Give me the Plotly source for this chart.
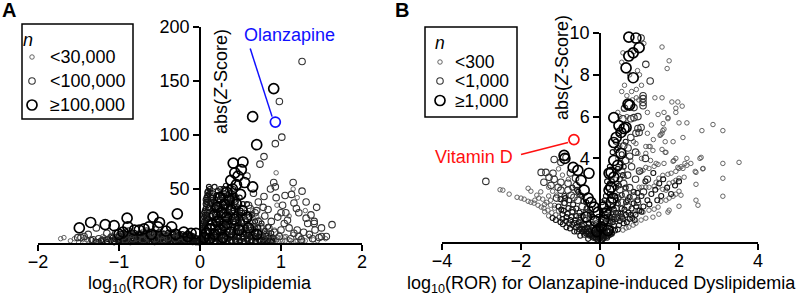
import plotly.graph_objects as go

W, H = 803, 302

# ---------------- Panel A data: (log10 ROR, abs Z) ----------------
A_large = [
    (0.91, 143), (0.65, 117), (0.70, 91), (0.41, 74), (0.53, 75), (0.51, 68), (0.43, 65),
    (0.38, 58), (0.45, 54), (0.55, 56), (0.40, 50), (0.33, 47), (0.50, 45), (0.25, 42),
    (0.36, 40), (0.30, 36), (0.45, 36), (0.21, 33), (0.38, 31), (0.27, 28), (0.52, 30),
    (0.18, 26), (0.33, 24), (0.42, 22), (0.22, 20), (0.15, 17), (0.30, 16), (0.12, 13),
    (0.25, 12), (0.08, 9), (0.18, 8), (0.05, 5), (0.58, 24), (0.60, 14), (0.48, 12),
    (0.70, 8), (0.38, 10), (0.12, 4), (0.28, 5), (0.65, 52), (0.47, 62),
    (-1.35, 19), (-1.49, 14), (-1.17, 17), (-1.06, 16), (-0.90, 23), (-0.89, 15),
    (-0.58, 24), (-0.50, 19), (-0.52, 15), (-0.63, 15), (-0.28, 27), (-0.35, 15),
    (-0.20, 10), (-0.11, 9), (-0.05, 9), (-0.81, 12), (-0.75, 12), (-0.69, 13),
    (-0.42, 11), (-0.95, 10), (-0.30, 8), (-1.00, 8), (-0.15, 6), (-0.60, 8),
]
A_medium = [
    (0.98, 131), (1.01, 98), (0.93, 92), (0.79, 80), (0.74, 73), (1.26, 168),
    (0.91, 56), (0.93, 52), (1.15, 56), (1.26, 48), (1.05, 44), (0.94, 42), (1.16, 37),
    (1.19, 32), (1.31, 38), (1.44, 33), (1.37, 26), (1.41, 20), (1.63, 17), (1.56, 6),
    (1.50, 6), (1.22, 28), (1.06, 28), (1.00, 28), (0.78, 33), (0.84, 31), (0.72, 38),
    (0.79, 43), (1.31, 23), (1.33, 18), (1.41, 18), (1.47, 5), (1.39, 4), (1.16, 9),
    (1.22, 6), (1.08, 21), (1.04, 18), (0.96, 24), (0.88, 20), (0.85, 14), (0.92, 10),
    (1.00, 12), (1.10, 14), (1.20, 12), (1.28, 10), (1.35, 8), (1.12, 4), (0.98, 6),
    (0.80, 25), (0.68, 28), (0.72, 20), (0.62, 32), (0.66, 46), (0.58, 62), (0.75, 15),
    (0.65, 18), (0.55, 20), (1.02, 35), (1.13, 45), (0.87, 50), (1.42, 12), (1.50, 14),
    (1.25, 3), (0.90, 3), (0.78, 5), (0.60, 35), (0.70, 30), (0.82, 8),
    (-1.28, 14), (-1.15, 9), (-1.38, 8), (-1.43, 6), (-1.51, 5), (-1.47, 5), (-1.04, 9),
    (-1.00, 7), (-1.25, 4), (-1.10, 5), (-0.95, 6), (-0.85, 8), (-0.78, 5), (-0.72, 8),
    (-0.65, 6), (-0.60, 9), (-0.55, 4), (-0.48, 7), (-0.40, 5), (-0.36, 9), (-0.30, 4),
    (-0.25, 6), (-0.18, 4), (-0.92, 3), (-0.83, 4), (-0.70, 3), (-0.60, 2), (-1.20, 2),
    (-1.32, 3), (-0.45, 3), (-0.88, 11), (-0.66, 11), (-0.55, 12),
]
A_small = [
    (0.94, 65), (1.15, 50), (1.20, 42), (1.30, 30), (1.10, 25), (0.95, 35),
    (-1.68, 5), (-1.55, 4), (-1.40, 3), (-1.42, 5), (-1.30, 2), (-1.20, 6), (-1.12, 3),
    (-1.25, 1.5), (-1.38, 2), (-1.45, 3), (-1.50, 1), (-1.60, 2), (-1.72, 4),
    (-1.10, 7), (-1.18, 5), (-0.92, 11), (-0.70, 11), (-0.50, 11), (-0.30, 11),
    (1.02, 2), (1.06, 6), (1.10, 3), (1.15, 8), (1.20, 2), (1.25, 5),
    (1.30, 2), (1.35, 6), (1.40, 3), (1.45, 2), (1.55, 4),
]
# dense black mass left of zero
A_dense_left = [
    (-1.05, 4), (-1.00, 2), (-0.95, 4), (-0.90, 2), (-0.85, 3), (-0.80, 1), (-0.75, 3),
    (-0.70, 2), (-0.65, 4), (-0.60, 1), (-0.55, 3), (-0.50, 2), (-0.45, 1), (-0.40, 3),
    (-0.35, 2), (-0.30, 1), (-0.25, 3), (-0.20, 2), (-0.15, 1), (-0.10, 2), (-0.05, 1),
    (-0.02, 0.5), (-0.90, 6), (-0.80, 7), (-0.70, 6), (-0.60, 5), (-0.50, 5), (-0.42, 6),
    (-0.32, 6), (-0.22, 5), (-0.12, 4), (-0.07, 3),
    (-1.00, 6.5), (-0.95, 9), (-0.85, 10), (-0.75, 9), (-0.65, 10), (-0.55, 9.5),
    (-0.45, 9), (-0.35, 10), (-0.25, 8), (-0.15, 7), (-0.09, 6.5), (-1.15, 1), (-1.20, 3),
    (-1.06, 1.4), (-1.01, 1.8), (-0.97, 1.2), (-0.91, 1.6), (-0.87, 1.3), (-0.83, 1.9),
    (-0.79, 1.4), (-0.73, 1.7), (-0.69, 1.2), (-0.65, 1.6), (-0.61, 1.9), (-0.57, 1.3),
    (-0.53, 1.7), (-0.49, 1.4), (-0.43, 1.8), (-0.39, 1.2), (-0.35, 1.6), (-0.31, 1.3),
    (-0.27, 1.5), (-0.23, 1.1), (-0.19, 1.4), (-0.13, 1.0), (-0.09, 0.8), (-0.05, 0.6),
    (-1.04, 3.2), (-0.99, 2.8), (-0.94, 3.4), (-0.89, 2.9), (-0.84, 3.3), (-0.79, 2.7),
    (-0.74, 3.1), (-0.69, 3.5), (-0.64, 2.8), (-0.59, 3.2), (-0.54, 2.9), (-0.49, 3.4),
    (-0.44, 2.7), (-0.39, 3.1), (-0.34, 3.3), (-0.29, 2.8), (-0.24, 3.0), (-0.19, 2.6),
    (-0.14, 2.4), (-0.09, 2.0), (-0.04, 1.6),
    (-0.97, 4.6), (-0.92, 4.3), (-0.87, 4.8), (-0.82, 4.4), (-0.77, 4.7), (-0.72, 4.2),
    (-0.67, 4.9), (-0.62, 4.5), (-0.57, 4.3), (-0.52, 4.8), (-0.47, 4.4), (-0.42, 4.6),
    (-0.37, 4.2), (-0.32, 4.7), (-0.27, 4.3), (-0.22, 4.1), (-0.17, 3.8), (-0.11, 3.4),
    (-0.96, 6.1), (-0.88, 5.8), (-0.81, 6.3), (-0.74, 5.9), (-0.67, 6.2), (-0.61, 5.7),
    (-0.54, 6.4), (-0.47, 5.9), (-0.40, 6.1), (-0.33, 5.6), (-0.27, 5.9), (-0.20, 5.4),
    (-0.13, 5.0), (-0.90, 7.6), (-0.78, 7.3), (-0.68, 7.8), (-0.58, 7.2), (-0.49, 7.7),
    (-0.41, 7.4), (-0.33, 7.9), (-0.24, 7.1), (-0.17, 6.6),
    (-1.10, 2.2), (-1.14, 3.6), (-1.22, 2.5), (-1.28, 1.0), (-1.34, 2.8), (-1.08, 4.8),
    (-0.03, 4.2), (-0.06, 5.0), (-0.10, 6.0), (-0.14, 6.8), (-0.18, 7.6), (-0.22, 8.4),
    (-0.27, 9.3), (-0.33, 8.7), (-0.39, 9.6), (-0.45, 8.2), (-0.51, 9.9), (-0.57, 8.6),
    (-0.63, 9.1), (-0.69, 8.3), (-0.75, 7.9), (-0.81, 9.4), (-0.87, 8.8), (-0.93, 7.7),
    (-0.98, 8.5), (-1.03, 5.6), (-0.02, 2.2), (-0.07, 1.3), (-0.16, 2.9), (-0.26, 2.2),
    (-0.36, 0.9), (-0.46, 2.3), (-0.56, 0.8), (-0.66, 2.6), (-0.76, 2.1), (-0.86, 0.7),
    (-0.96, 2.4), (-1.06, 0.6), (-0.12, 7.5), (-0.30, 7.0), (-0.52, 6.7), (-0.71, 6.9),
    (-0.85, 6.6),
]
# dense black spike right of zero
A_dense_right = [
    (0.02, 3), (0.03, 8), (0.04, 14), (0.05, 20), (0.06, 26), (0.07, 32), (0.08, 38),
    (0.09, 44), (0.10, 48), (0.04, 5), (0.05, 11), (0.06, 17), (0.07, 23), (0.08, 29),
    (0.09, 35), (0.10, 40), (0.11, 45), (0.12, 50), (0.13, 36), (0.14, 42), (0.15, 30),
    (0.16, 46), (0.17, 38), (0.18, 52), (0.19, 33), (0.20, 44), (0.21, 28), (0.22, 48),
    (0.23, 36), (0.24, 24), (0.25, 50), (0.26, 32), (0.27, 42), (0.28, 20), (0.29, 37),
    (0.30, 46), (0.31, 26), (0.32, 53), (0.33, 34), (0.34, 16), (0.35, 41), (0.36, 29),
    (0.37, 48), (0.38, 22), (0.39, 36), (0.40, 12), (0.41, 30), (0.42, 44), (0.43, 18),
    (0.44, 38), (0.45, 26), (0.46, 10), (0.47, 33), (0.48, 20), (0.49, 42), (0.50, 14),
    (0.52, 28), (0.54, 8), (0.56, 22), (0.58, 36), (0.60, 16), (0.62, 6), (0.64, 26),
    (0.66, 12), (0.68, 20), (0.70, 4), (0.72, 14), (0.74, 9), (0.76, 18), (0.78, 3),
    (0.80, 11), (0.82, 7), (0.84, 15), (0.86, 2), (0.88, 9), (0.90, 5),
    (0.03, 1), (0.06, 2), (0.10, 1), (0.12, 5), (0.15, 3), (0.18, 1), (0.20, 6), (0.22, 3),
    (0.25, 1), (0.27, 7), (0.30, 2), (0.32, 9), (0.35, 4), (0.38, 1), (0.40, 6), (0.43, 3),
    (0.45, 1), (0.48, 5), (0.50, 2), (0.53, 4), (0.55, 1), (0.58, 3), (0.60, 8), (0.63, 2),
    (0.65, 5), (0.68, 1), (0.70, 9), (0.73, 3), (0.75, 6), (0.78, 1), (0.80, 4), (0.83, 2),
    (0.85, 5), (0.88, 1), (0.12, 20), (0.14, 25), (0.16, 15), (0.20, 18), (0.24, 12),
    (0.28, 10), (0.30, 30), (0.35, 20), (0.40, 24), (0.45, 16), (0.50, 30), (0.55, 12),
    (0.60, 24),
    (0.05, 2.3), (0.09, 2.0), (0.14, 2.4), (0.19, 1.8), (0.24, 2.2), (0.29, 2.5),
    (0.34, 1.9), (0.39, 2.3), (0.44, 2.1), (0.49, 2.6), (0.54, 1.8), (0.59, 2.2),
    (0.64, 2.4), (0.69, 2.0), (0.74, 2.3), (0.79, 2.7), (0.84, 1.9), (0.89, 2.4),
    (0.04, 6.2), (0.08, 5.8), (0.13, 6.4), (0.18, 5.6), (0.23, 6.1), (0.28, 6.5),
    (0.33, 5.7), (0.38, 6.3), (0.43, 5.9), (0.48, 6.6), (0.53, 5.6), (0.58, 6.2),
    (0.63, 5.8), (0.68, 6.4), (0.73, 5.7), (0.78, 6.1),
    (0.05, 10.2), (0.09, 9.6), (0.14, 10.5), (0.19, 9.8), (0.24, 10.3), (0.29, 9.5),
    (0.34, 10.6), (0.39, 9.9), (0.44, 10.4), (0.49, 9.7), (0.54, 10.2), (0.59, 9.6),
    (0.64, 10.1), (0.69, 9.4),
    (0.06, 15.3), (0.11, 14.6), (0.16, 15.5), (0.21, 14.8), (0.26, 15.4), (0.31, 14.5),
    (0.36, 15.2), (0.41, 14.7), (0.46, 15.6), (0.51, 14.9), (0.56, 15.3), (0.61, 14.6),
    (0.07, 20.5), (0.12, 19.6), (0.17, 20.8), (0.22, 19.9), (0.27, 20.4), (0.32, 19.5),
    (0.37, 20.6), (0.42, 19.8), (0.47, 20.3), (0.52, 19.7), (0.57, 20.2),
    (0.08, 26.2), (0.13, 25.5), (0.18, 26.6), (0.23, 25.8), (0.28, 26.4), (0.33, 25.6),
    (0.38, 26.3), (0.43, 25.7), (0.48, 26.1),
    (0.11, 32.4), (0.16, 31.6), (0.21, 32.7), (0.26, 31.8), (0.31, 32.5), (0.36, 31.7),
    (0.41, 32.2), (0.46, 31.5),
    (0.14, 38.3), (0.19, 37.6), (0.24, 38.5), (0.29, 37.8), (0.34, 38.4), (0.39, 37.5),
    (0.44, 38.1), (0.21, 44.5), (0.27, 43.8), (0.33, 44.2), (0.38, 43.6),
    (0.43, 44.0), (0.29, 50.2), (0.36, 51.0),
    (0.02, 6), (0.03, 12), (0.04, 18), (0.05, 24), (0.06, 30), (0.07, 36), (0.08, 42),
    (0.09, 47), (0.11, 52), (0.13, 47), (0.15, 40), (0.17, 33), (0.19, 27), (0.21, 22),
    (0.23, 17), (0.25, 7), (0.27, 3), (0.29, 13), (0.31, 20), (0.33, 28), (0.35, 36),
    (0.37, 41), (0.39, 46), (0.41, 50), (0.43, 40), (0.45, 31), (0.47, 23), (0.49, 17),
    (0.51, 8), (0.53, 36), (0.55, 28), (0.57, 14), (0.59, 4), (0.03, 16), (0.05, 28),
    (0.07, 40), (0.09, 22), (0.11, 33), (0.13, 18), (0.15, 9), (0.17, 4), (0.19, 40),
    (0.21, 14), (0.23, 44), (0.25, 30), (0.27, 16), (0.29, 44), (0.31, 38), (0.33, 4),
    (0.35, 12), (0.37, 33), (0.39, 7), (0.41, 18), (0.43, 10), (0.45, 42), (0.47, 5),
    (0.49, 26),
]
# grey spread right of the spike
A_grey_right = [
    (0.92, 12), (0.95, 3), (0.98, 8), (0.65, 30), (0.70, 25), (0.75, 22),
    (0.94, 2.0), (0.99, 2.6), (1.05, 1.8), (1.12, 2.3), (1.18, 1.6), (1.27, 2.1),
    (0.83, 5.5), (0.89, 6.0), (0.96, 5.4), (1.04, 5.6), (0.74, 10.0), (0.79, 9.5),
    (0.85, 9.8), (0.66, 15.1), (0.71, 14.4), (0.77, 14.8), (0.62, 19.4), (0.68, 19.9),
    (0.53, 25.4), (0.59, 25.9), (0.52, 32.0),
]

# ---------------- Panel B data: (log10 ROR, abs Z) ----------------
B_large = [
    (0.73, 9.80), (0.91, 9.76), (0.99, 9.30), (0.84, 9.05), (0.73, 8.90), (0.66, 8.33),
    (0.84, 7.86), (0.71, 6.60), (0.75, 6.55), (0.35, 5.95), (0.48, 5.57), (0.61, 5.43),
    (0.53, 5.24), (0.66, 5.48), (0.41, 5.00), (0.35, 4.76), (0.53, 4.24), (0.35, 3.90),
    (0.45, 3.67), (0.28, 3.33), (0.23, 3.29), (0.35, 3.10), (0.28, 2.62), (0.23, 2.48),
    (0.33, 2.10), (0.28, 1.90), (0.08, 1.67), (0.15, 1.38), (0.10, 1.05), (0.03, 0.71),
    (0.20, 0.55),
    (-0.91, 4.14), (-0.89, 4.00), (-0.68, 3.57), (-0.56, 3.43), (-0.28, 3.29), (-0.48, 2.95),
    (-0.40, 2.48), (-0.30, 2.10), (-0.23, 1.90), (-0.15, 1.67), (-0.05, 1.43), (-0.12, 1.00),
    (-0.35, 1.20), (-0.08, 0.50),
]
B_medium = [
    (1.04, 9.76), (1.09, 7.00), (1.09, 6.86), (1.09, 6.67), (1.09, 6.52), (1.16, 8.50),
    (1.27, 7.70), (0.86, 6.43), (0.78, 5.90), (0.86, 5.95), (0.96, 6.00), (0.96, 5.43),
    (1.04, 5.48), (0.91, 5.20), (0.99, 5.24), (0.78, 5.00), (0.71, 4.50), (0.60, 4.60),
    (0.75, 4.10), (0.65, 3.90), (0.80, 3.60), (0.55, 3.40), (0.70, 3.20), (0.90, 3.00),
    (0.60, 2.80), (0.75, 2.60), (0.50, 2.50), (0.65, 2.30), (0.45, 2.10), (0.85, 2.20),
    (0.55, 1.90), (0.40, 1.60), (0.70, 1.70), (0.30, 1.30), (0.50, 1.20), (0.20, 0.90),
    (0.95, 1.90), (1.10, 2.40), (1.20, 3.00), (1.00, 3.40), (1.15, 4.00), (0.90, 4.30),
    (0.62, 6.40), (0.58, 5.90),
    (-2.89, 2.90), (-1.49, 3.33), (-1.37, 3.33), (-1.19, 3.29), (-1.29, 3.10), (-1.16, 3.00),
    (-1.42, 2.86), (-1.24, 2.71), (-1.16, 3.95), (-0.99, 3.81), (-0.86, 4.05), (-1.06, 2.62),
    (-0.99, 2.48), (-0.81, 2.48), (-0.73, 2.24), (-0.66, 2.14), (-0.56, 2.00), (-0.81, 2.81),
    (-0.99, 2.86), (-0.60, 2.70), (-0.45, 1.70), (-0.35, 1.40), (-0.25, 1.10), (-0.70, 1.50),
    (-0.50, 1.20), (-0.90, 1.90), (-1.10, 2.10), (-0.15, 0.80), (-0.62, 3.05), (-0.75, 3.30),
]
B_small = [
    (1.57, 9.33), (1.75, 8.67), (1.70, 8.30), (1.39, 6.90), (1.57, 6.90), (1.82, 6.70),
    (1.97, 6.70), (2.08, 6.50), (1.92, 6.40), (1.92, 6.20), (1.62, 6.20), (1.47, 6.10),
    (1.72, 5.90), (1.60, 5.67), (2.00, 5.70), (2.20, 5.70), (2.86, 5.62), (2.58, 5.33),
    (3.11, 5.33), (1.62, 5.40), (1.57, 5.20), (1.52, 5.10), (2.10, 5.00), (1.65, 4.80),
    (1.85, 4.80), (1.16, 4.57), (1.27, 4.57), (1.34, 4.38), (1.16, 4.24), (1.57, 4.43),
    (1.67, 4.29), (1.85, 3.86), (1.92, 4.00), (2.20, 4.00), (2.53, 4.00), (3.11, 3.76),
    (3.52, 3.81), (2.20, 3.67), (2.30, 3.76), (2.05, 3.60), (1.97, 3.57), (1.92, 3.38),
    (2.43, 3.33), (2.60, 3.50), (1.62, 3.76), (1.47, 3.71), (1.37, 3.62), (1.24, 3.52),
    (3.11, 3.05), (1.09, 3.43), (0.99, 3.33), (0.58, 9.05), (1.11, 9.50), (0.85, 9.10),
    (1.42, 3.76), (1.16, 3.57), (1.04, 3.38), (2.15, 3.76), (2.00, 3.52), (2.10, 3.52),
    (1.80, 3.29), (1.72, 3.24), (2.61, 3.52), (2.41, 3.38), (2.13, 3.10), (2.00, 3.05),
    (2.43, 2.76), (3.11, 2.19), (1.92, 2.95), (1.85, 2.86), (1.75, 2.81), (1.59, 3.19),
    (1.49, 3.05), (1.42, 2.86), (1.37, 2.67), (1.47, 2.62), (1.59, 2.52), (1.67, 2.48),
    (1.24, 2.62), (1.16, 2.62), (1.06, 2.62), (0.99, 2.62), (2.00, 2.43), (2.05, 2.24),
    (1.92, 2.29), (1.85, 2.19), (1.75, 2.10), (1.67, 2.00), (1.54, 1.95), (2.43, 2.00),
    (2.48, 1.76), (2.00, 1.71), (1.75, 1.52), (1.72, 1.43), (1.47, 1.67), (1.37, 1.57),
    (1.24, 1.52), (1.49, 1.33), (1.34, 1.19), (1.16, 1.14), (1.04, 1.05), (0.91, 0.90),
    (0.84, 0.81), (1.09, 1.43), (0.96, 1.52), (0.86, 1.38), (0.73, 0.71), (0.66, 0.67),
    (0.58, 0.57), (1.72, 5.95), (1.59, 5.33), (1.54, 5.14), (0.91, 4.71), (0.96, 4.24),
    (1.87, 3.90), (2.56, 4.05), (1.65, 4.29), (1.24, 4.57),
    (0.95, 8.20), (0.55, 7.20), (0.92, 7.30), (0.45, 6.20), (0.82, 6.80), (0.68, 6.00),
    (0.50, 4.60), (0.45, 4.00), (0.62, 3.10), (0.78, 3.90), (0.85, 4.80), (0.40, 3.00),
    (0.50, 6.00), (0.60, 6.40), (0.68, 7.00), (0.62, 7.50), (0.75, 8.00), (0.55, 8.60),
    (0.80, 7.20), (0.92, 6.90), (0.98, 6.80), (1.05, 7.50), (1.00, 8.00), (1.20, 6.20),
    (1.30, 5.60), (1.20, 5.20), (1.35, 4.90), (1.05, 4.00), (1.28, 3.90),
    (-2.53, 2.50), (-2.46, 2.48), (-2.30, 2.29), (-2.10, 2.14), (-2.00, 2.10), (-1.92, 2.05),
    (-1.82, 1.95), (-1.75, 1.90), (-1.67, 1.86), (-1.57, 1.76), (-1.49, 1.67), (-1.42, 1.62),
    (-1.32, 1.52), (-1.22, 1.40), (-1.12, 1.30), (-1.03, 1.19),
    (-1.82, 2.57), (-1.75, 2.43), (-1.60, 2.24), (-1.45, 2.05), (-1.35, 1.90), (-1.25, 1.76),
    (-1.15, 1.62), (-1.05, 1.48), (-1.30, 2.62), (-1.20, 2.43), (-1.10, 2.24),
    (-1.05, 3.50), (-0.95, 3.20), (-0.80, 3.00), (-1.30, 2.20), (-1.50, 2.40), (-1.65, 2.00),
    (-1.30, 1.25), (-1.40, 1.45), (-1.15, 1.75), (-1.25, 2.00), (-1.40, 1.80), (-1.55, 2.10),
]
# dense wedge around the origin
B_dense = [
    (-0.95, 1.10), (-0.86, 1.00), (-0.78, 0.90), (-0.70, 0.81), (-0.61, 0.71), (-0.52, 0.60),
    (-0.44, 0.51), (-0.35, 0.41), (-0.26, 0.30), (-0.18, 0.21), (-0.95, 1.33), (-0.85, 1.19),
    (-0.75, 1.05), (-0.65, 0.91), (-0.55, 0.78), (-0.45, 0.63), (-0.35, 0.50), (-0.25, 0.36),
    (-1.00, 2.05), (-0.90, 1.86), (-0.80, 1.62), (-0.70, 1.43), (-0.60, 1.24), (-0.50, 1.05),
    (-0.40, 0.81), (-0.30, 0.62), (-0.20, 0.43), (-0.70, 2.60), (-0.55, 2.40), (-0.45, 2.20),
    (-0.35, 1.90), (-0.25, 1.60), (-0.20, 1.20), (-0.10, 0.90), (-0.05, 0.30), (-0.12, 0.20),
    (-0.30, 0.15), (-0.50, 0.30), (-0.65, 0.50), (-0.85, 0.70), (-1.00, 0.95), (-1.20, 1.15),
    (-0.90, 2.20),
    (-0.05, 0.10), (0.02, 0.05), (-0.10, 0.15), (0.05, 0.10), (-0.15, 0.25), (0.10, 0.20),
    (-0.20, 0.30), (0.15, 0.25), (-0.25, 0.35), (0.20, 0.30), (-0.30, 0.40), (0.25, 0.35),
    (-0.40, 0.50), (0.30, 0.45), (-0.03, 0.35), (0.03, 0.30), (-0.08, 0.60), (0.06, 0.60),
    (0.00, 0.20), (-0.02, 0.80), (0.02, 1.00), (-0.04, 1.20), (0.05, 1.30), (0.10, 0.30),
    (0.20, 0.50), (0.30, 0.40), (0.15, 1.00), (0.25, 1.20), (0.35, 0.80), (0.45, 0.60),
    (0.40, 1.40), (0.50, 1.00), (0.55, 1.60), (0.60, 0.90), (0.65, 1.30), (0.70, 2.00),
    (0.75, 1.10), (0.80, 1.60), (0.85, 2.40), (0.90, 1.30), (0.95, 2.00), (1.00, 1.50),
    (1.05, 2.20), (1.10, 1.70), (1.15, 2.90), (1.20, 2.00), (1.25, 1.80), (1.30, 2.30),
    (1.35, 3.30), (1.40, 2.50), (1.45, 2.00), (1.50, 2.80), (1.55, 2.20), (1.60, 3.00),
    (1.70, 2.60), (1.80, 2.30), (1.90, 2.70), (2.00, 2.90), (0.20, 1.80), (0.30, 2.20),
    (0.40, 2.60), (0.50, 3.00), (0.60, 3.60), (0.25, 2.80), (0.45, 3.50), (0.55, 4.20),
    (0.65, 4.80), (0.42, 4.40), (0.08, 0.15), (0.05, 0.40), (0.12, 0.70), (0.18, 0.20),
    (0.25, 2.30), (0.18, 1.60), (0.12, 2.00),
    (0.12, 0.45), (0.22, 0.75), (0.32, 0.95), (0.42, 1.10), (0.52, 1.35), (0.62, 1.55),
    (0.72, 1.40), (0.82, 1.15), (0.92, 1.70), (0.35, 1.55), (0.45, 1.85), (0.55, 2.25),
    (0.65, 2.60), (0.75, 2.15), (0.85, 1.85), (0.95, 2.35), (1.05, 1.45), (0.28, 0.65),
    (0.38, 0.55), (0.48, 0.80), (0.58, 1.10), (0.68, 0.95), (0.78, 1.30), (0.88, 1.05),
    (0.16, 0.35), (0.24, 0.50), (0.36, 1.20), (0.46, 1.40), (0.56, 1.20), (0.66, 1.90),
    (-0.06, 0.22), (-0.12, 0.35), (-0.18, 0.42), (-0.24, 0.55), (-0.32, 0.70), (-0.38, 0.62),
    (-0.46, 0.80), (-0.54, 0.95), (-0.62, 1.05), (-0.72, 1.20), (-0.82, 1.35), (-0.92, 1.50),
    (-0.15, 0.55), (-0.22, 0.70), (-0.28, 0.90), (-0.36, 1.05), (-0.44, 1.25), (-0.52, 1.40),
    (-0.60, 1.60), (-0.68, 1.80), (-0.78, 2.00), (-0.88, 2.10), (-0.10, 0.45), (-0.18, 0.80),
    (-0.26, 1.30), (-0.34, 1.60), (-0.42, 1.95), (-0.50, 2.25), (-0.58, 2.50), (-0.40, 0.35),
    (-0.58, 0.50), (-0.76, 0.65), (-0.94, 0.85), (-1.12, 1.05), (-1.05, 1.70), (-0.98, 1.55),
    (-0.07, 0.70), (-0.03, 0.55), (0.04, 0.85), (0.08, 0.50), (-0.01, 0.45), (0.01, 0.65),
    (0.12, 0.90), (0.18, 1.20), (0.22, 1.50), (0.15, 2.20), (0.20, 2.60), (0.30, 2.90),
    (0.38, 3.40), (0.42, 2.80), (0.38, 2.20), (0.32, 1.70), (0.25, 1.00), (0.35, 1.10),
    (0.10, 1.50), (0.05, 1.90), (0.18, 2.90), (0.25, 3.60), (0.32, 4.30), (0.40, 4.80),
    (0.48, 5.20), (0.45, 4.50), (0.52, 3.80), (0.58, 3.20), (0.48, 2.70), (0.40, 2.00),
]

A_highlight = [(0.93, 112)]
A_highlight_label = "Olanzapine"
B_highlight = [(-0.66, 4.90)]
B_highlight_label = "Vitamin D"

A_xticks = [-2, -1, 0, 1, 2]
A_yticks = [50, 100, 150, 200]
B_xticks = [-4, -2, 0, 2, 4]
B_yticks = [4, 6, 8, 10]
A_legend = ["<30,000", "<100,000", "\u2265100,000"]
B_legend = ["<300", "<1,000", "\u22651,000"]

FONT = "Liberation Sans, Arial, Helvetica, sans-serif"
STY = {
    "small": dict(size=4.5, color="#555555", width=0.9),
    "dense": dict(size=5, color="#111111", width=1.1),
    "medium": dict(size=6.5, color="#333333", width=1.1),
    "large": dict(size=10, color="#000000", width=1.7),
}


def PX(p):
    return p / W


def PY(p):
    return 1 - p / H


def minus(v):
    return str(v).replace("-", "\u2212")


fig = go.Figure()


def add_pts(pts, style, xa, ya, color=None):
    s = STY[style]
    fig.add_trace(go.Scatter(
        x=[p[0] for p in pts], y=[p[1] for p in pts], mode="markers",
        xaxis=xa, yaxis=ya, cliponaxis=False, hoverinfo="skip",
        marker=dict(symbol="circle", size=s["size"], color="rgba(0,0,0,0)",
                    line=dict(color=color or s["color"], width=s["width"])),
    ))


for pts, st in [(A_small, "small"), (A_grey_right, "small"), (A_dense_left, "dense"),
                (A_dense_right, "dense"), (A_medium, "medium"), (A_large, "large")]:
    add_pts(pts, st, "x", "y")
add_pts(A_highlight, "large", "x", "y", color="#1010ff")
for pts, st in [(B_small, "small"), (B_dense, "dense"), (B_medium, "medium"),
                (B_large, "large")]:
    add_pts(pts, st, "x2", "y2")
add_pts(B_highlight, "large", "x2", "y2", color="#ff1010")

A_dom = [PX(38), PX(362)]
B_dom = [PX(442), PX(758)]
A_rng = [-2, 2]
B_rng = [-4, 4]


def zero_pos(dom, rng):
    return dom[0] + (0 - rng[0]) / (rng[1] - rng[0]) * (dom[1] - dom[0])


axis_common = dict(showgrid=False, zeroline=False, showline=True, linecolor="black",
                   linewidth=1.5, ticks="outside", ticklen=6, tickwidth=1.5,
                   tickcolor="black", automargin=False,
                   tickfont=dict(family=FONT, size=18, color="black"))

fig.update_layout(
    template="none",
    width=W, height=H, margin=dict(l=0, r=0, t=0, b=0, pad=0, autoexpand=False),
    paper_bgcolor="white", plot_bgcolor="white", showlegend=False,
    font=dict(family=FONT, size=18, color="black"),
    xaxis=dict(domain=A_dom, range=A_rng, anchor="y", tickvals=A_xticks,
               ticktext=[minus(v) for v in A_xticks], ticklabelstandoff=-4, **axis_common),
    yaxis=dict(domain=[PY(243), PY(27)], range=[0, 200], anchor="free",
               position=zero_pos(A_dom, A_rng), tickvals=A_yticks,
               ticktext=[str(v) for v in A_yticks], **axis_common),
    xaxis2=dict(domain=B_dom, range=B_rng, anchor="y2", tickvals=B_xticks,
                ticktext=[minus(v) for v in B_xticks], ticklabelstandoff=-4, **axis_common),
    yaxis2=dict(domain=[PY(242), PY(33)], range=[0, 10], anchor="free",
                position=zero_pos(B_dom, B_rng), tickvals=B_yticks,
                ticktext=[str(v) for v in B_yticks], **axis_common),
)

ann = []


def text(x, y, s, size=18, color="black", xanchor="center", angle=0, xref="paper", yref="paper"):
    ann.append(dict(x=x, y=y, xref=xref, yref=yref, text=s, showarrow=False,
                    xanchor=xanchor, yanchor="middle", textangle=angle,
                    font=dict(family=FONT, size=size, color=color)))


# panel letters
text(PX(9), PY(10), "<b>A</b>", size=20)
text(PX(402), PY(10), "<b>B</b>", size=20)
# axis titles
text(PX(200), PY(284), "log<sub>10</sub>(ROR) for Dyslipidemia")
text(PX(601), PY(284), "log<sub>10</sub>(ROR) for Olanzapine-induced Dyslipidemia")
text(PX(221), PY(82), "abs(<i>Z</i>-Score)", angle=-90)
text(PX(562), PY(68), "abs(<i>Z</i>-Score)", angle=-90)
# highlighted labels
text(1.11, 193, A_highlight_label, color="#1010ff", xref="x", yref="y")
text(-3.19, 4.05, B_highlight_label, color="#ff1010", xref="x2", yref="y2")

shapes = [
    dict(type="line", xref="x", yref="y", x0=0.62, y0=180, x1=0.89, y1=117,
         line=dict(color="#1010ff", width=1.5)),
    dict(type="line", xref="x2", yref="y2", x0=-2.0, y0=4.19, x1=-0.81, y1=4.76,
         line=dict(color="#ff1010", width=1.5)),
]


def legend(box, title_xy, marker_x, rows_y, labels, text_x, size):
    shapes.append(dict(type="rect", xref="paper", yref="paper", x0=PX(box[0]), y0=PY(box[1]),
                       x1=PX(box[2]), y1=PY(box[3]), line=dict(color="black", width=1.5)))
    text(PX(title_xy[0]), PY(title_xy[1]), "<i>n</i>", size=size)
    for (st, yy, lab) in zip(["small", "medium", "large"], rows_y, labels):
        s = STY[st]
        r = s["size"] / 2
        shapes.append(dict(type="circle", xref="paper", yref="paper",
                           xsizemode="pixel", ysizemode="pixel",
                           xanchor=PX(marker_x), yanchor=PY(yy),
                           x0=-r, x1=r, y0=-r, y1=r,
                           line=dict(color=s["color"], width=s["width"])))
        text(PX(text_x), PY(yy), lab, xanchor="left", size=size)


legend((22, 24, 133, 119), (28, 40), 32, [57, 81, 105], A_legend, 48, 18)
legend((425, 27, 517, 117), (440, 43), 440, [62, 81, 100.5], B_legend, 453, 17.5)

fig.update_layout(annotations=ann, shapes=shapes)
fig.write_html("out.html", config={"displayModeBar": False},
               post_script="document.body.style.margin='0';document.body.style.overflow='hidden';")
